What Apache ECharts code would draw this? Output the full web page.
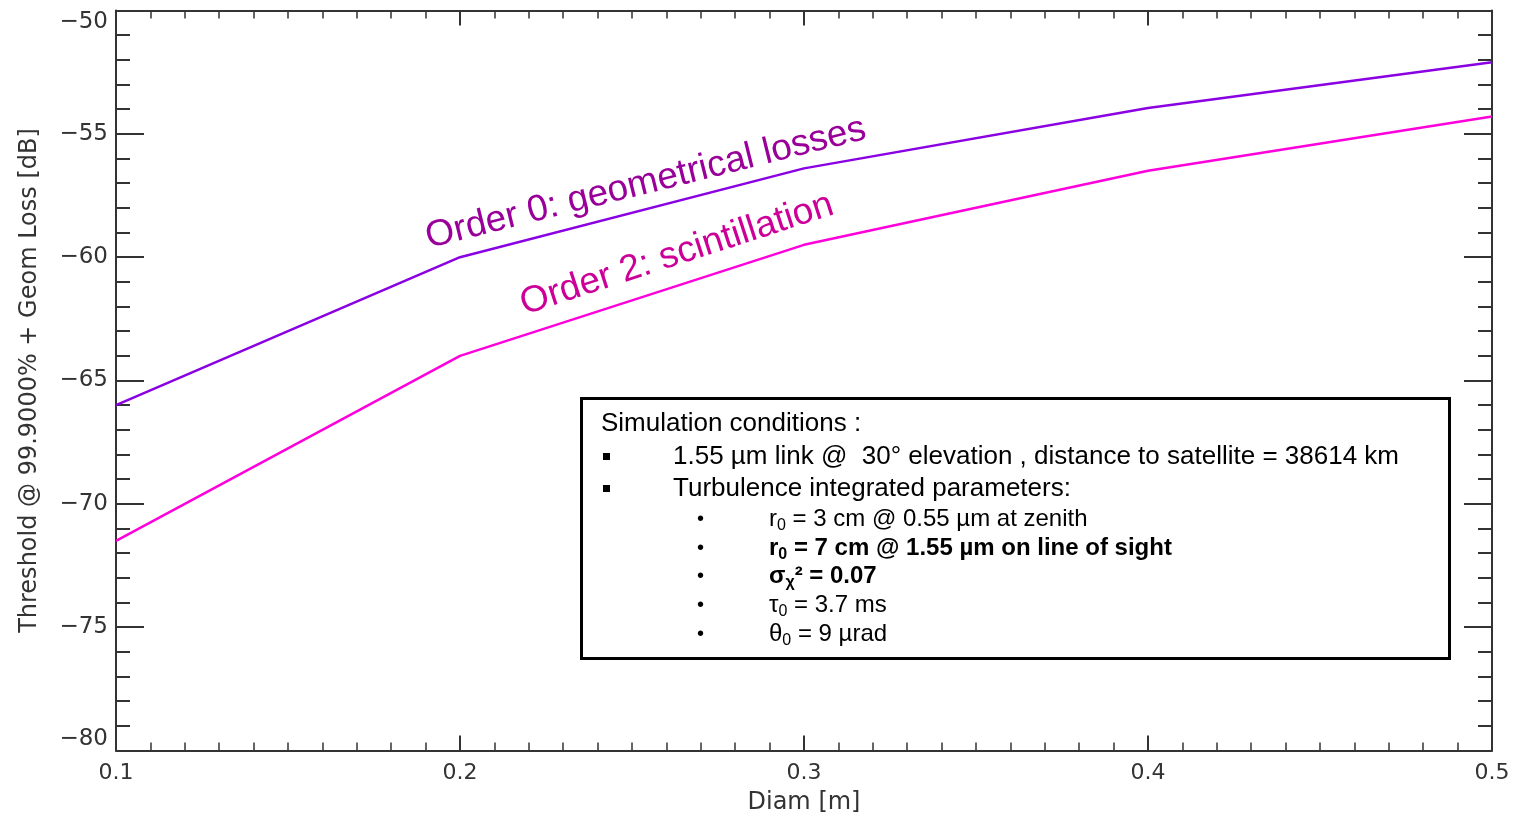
<!DOCTYPE html>
<html>
<head>
<meta charset="utf-8">
<script src="https://cdn.jsdelivr.net/npm/echarts@6/dist/echarts.min.js"></script>
<style>html,body{margin:0;padding:0;background:#fff}#c{width:1518px;height:816px}</style>
</head>
<body>
<div id="c"></div>
<script>
const diam = [0.1, 0.2, 0.3, 0.4, 0.5];
const order0 = [-66.0, -60.0, -56.4, -53.95, -52.1];
const order2 = [-71.5, -64.0, -59.5, -56.5, -54.3];
const xTicks = [0.1, 0.2, 0.3, 0.4, 0.5];
const yTicks = [-80, -75, -70, -65, -60, -55, -50];
const xName = 'Diam [m]';
const yName = 'Threshold @ 99.9000% + Geom Loss [dB]';
const label0 = 'Order 0: geometrical losses';
const label2 = 'Order 2: scintillation';

const axisFont = 'DejaVu Sans';
const axisColor = '#333';
const fmtY = v => (v < 0 ? '\u2212' : '') + Math.abs(v);
const fmtX = v => v.toFixed(1);

function xAx(pos, show) {
  return {
    type: 'value', position: pos, min: xTicks[0], max: xTicks[xTicks.length - 1], interval: 0.1,
    name: show ? xName : '', nameLocation: 'middle', nameGap: 40,
    nameTextStyle: { fontFamily: axisFont, fontSize: 24, color: axisColor },
    axisLine: { show: true, onZero: false, lineStyle: { color: axisColor, width: 2 } },
    axisTick: { show: true, inside: true, length: 15, lineStyle: { color: axisColor, width: 2 } },
    minorTick: { show: true, splitNumber: 10, length: 8, lineStyle: { color: axisColor, width: 1.5 } },
    axisLabel: { show: show, margin: 12, fontFamily: axisFont, fontSize: 22, color: axisColor, formatter: fmtX },
    splitLine: { show: false }
  };
}
function yAx(pos, show) {
  return {
    type: 'value', position: pos, min: yTicks[0], max: yTicks[yTicks.length - 1], interval: 5,
    name: show ? yName : '', nameLocation: 'middle', nameGap: 74, nameRotate: 90,
    nameTextStyle: { fontFamily: axisFont, fontSize: 24, color: axisColor },
    axisLine: { show: true, onZero: false, lineStyle: { color: axisColor, width: 2 } },
    axisTick: { show: true, inside: true, length: 28, lineStyle: { color: axisColor, width: 2 } },
    minorTick: { show: true, splitNumber: 5, length: 14, lineStyle: { color: axisColor, width: 2 } },
    axisLabel: { show: show, margin: 8, fontFamily: axisFont, fontSize: 23, color: axisColor, formatter: fmtY,
      verticalAlignMinLabel: 'bottom', verticalAlignMaxLabel: 'top' },
    splitLine: { show: false }
  };
}

const chart = echarts.init(document.getElementById('c'), null, { renderer: 'canvas' });
chart.setOption({
  animation: false,
  backgroundColor: '#fff',
  grid: { left: 116, right: 26, top: 10.5, bottom: 65.5, containLabel: false, outerBoundsMode: 'none' },
  xAxis: [xAx('bottom', true), xAx('top', false)],
  yAxis: [yAx('left', true), yAx('right', false)],
  series: [
    { type: 'line', name: label0, data: diam.map((d, i) => [d, order0[i]]), showSymbol: false,
      lineStyle: { color: '#8a00e2', width: 2.5 }, itemStyle: { color: '#8a00e2' } },
    { type: 'line', name: label2, data: diam.map((d, i) => [d, order2[i]]), showSymbol: false,
      lineStyle: { color: '#ff00dc', width: 2.5 }, itemStyle: { color: '#ff00dc' } }
  ]
});

const p0 = chart.convertToPixel({ gridIndex: 0 }, [0.1915, -59.95]);
const p2 = chart.convertToPixel({ gridIndex: 0 }, [0.2195, -62.65]);
const F = 'Liberation Sans, Arial, sans-serif';
const rich = {
  n: { fontFamily: F, fontSize: 24, color: '#000' },
  b: { fontFamily: F, fontSize: 24, color: '#000', fontWeight: 'bold' },
  s: { fontFamily: F, fontSize: 16, color: '#000', verticalAlign: 'bottom', padding: [14, 0, 0, 0] },
  sb: { fontFamily: F, fontSize: 16, color: '#000', fontWeight: 'bold', verticalAlign: 'bottom', padding: [14, 0, 0, 0] }
};
function line(x, y, text, size, weight) {
  return { type: 'text', x: x, y: y, z: 101,
    style: { text: text, fontFamily: F, fontSize: size || 26, fontWeight: weight || 'normal', fill: '#000', verticalAlign: 'middle', align: 'left' } };
}
function richLine(y, text) {
  return { type: 'text', x: 769, y: y, z: 101,
    style: { text: text, rich: rich, verticalAlign: 'middle', align: 'left', fontFamily: F, fontSize: 24, fill: '#000' } };
}
chart.setOption({
  graphic: [
    { type: 'text', x: p0[0], y: p0[1], rotation: 14 * Math.PI / 180, z: 50,
      style: { text: label0, fontFamily: F, fontSize: 37, fill: '#990099', align: 'left', verticalAlign: 'bottom' } },
    { type: 'text', x: p2[0], y: p2[1], rotation: 18 * Math.PI / 180, z: 50,
      style: { text: label2, fontFamily: F, fontSize: 37, fill: '#cc0099', align: 'left', verticalAlign: 'bottom' } },
    { type: 'rect', shape: { x: 581.5, y: 398.5, width: 868, height: 260 }, z: 100,
      style: { fill: '#fff', stroke: '#000', lineWidth: 3 } },
    line(601, 424, 'Simulation conditions :'),
    { type: 'rect', shape: { x: 603, y: 453, width: 7, height: 7 }, z: 101, style: { fill: '#000' } },
    line(673, 457, '1.55 \u00b5m link @  30\u00b0 elevation , distance to satellite = 38614 km'),
    { type: 'rect', shape: { x: 603, y: 485, width: 7, height: 7 }, z: 101, style: { fill: '#000' } },
    line(673, 489, 'Turbulence integrated parameters:'),
    line(697, 519, '\u2022', 20), line(697, 548, '\u2022', 20), line(697, 576, '\u2022', 20),
    line(697, 605, '\u2022', 20), line(697, 634, '\u2022', 20),
    richLine(519, '{n|r}{s|0}{n| = 3 cm @ 0.55 \u00b5m at zenith}'),
    richLine(548, '{b|r}{sb|0}{b| = 7 cm @ 1.55 \u00b5m on line of sight}'),
    richLine(576, '{b|\u03c3}{sb|\u03c7}{b|\u00b2 = 0.07}'),
    richLine(605, '{n|\u03c4}{s|0}{n| = 3.7 ms}'),
    richLine(634, '{n|\u03b8}{s|0}{n| = 9 \u00b5rad}')
  ]
});
</script>
</body>
</html>
